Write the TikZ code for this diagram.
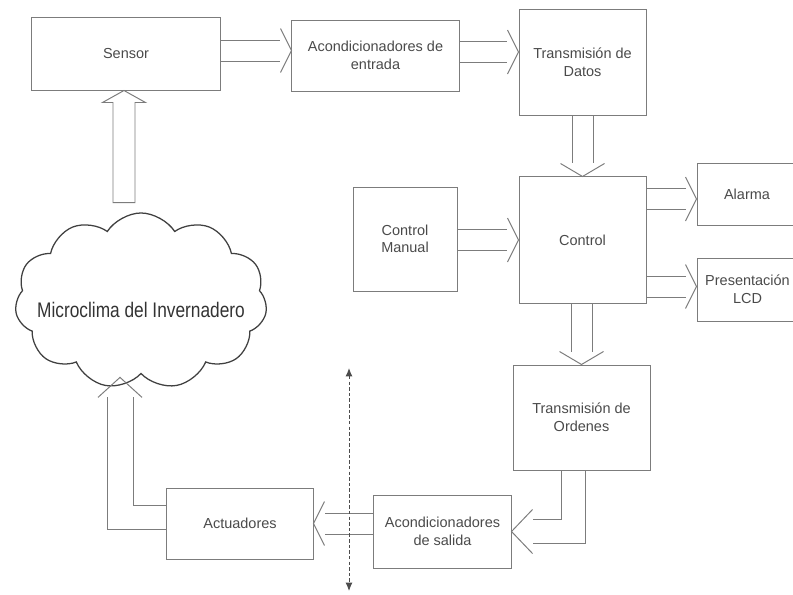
\documentclass[tikz,border=0pt]{standalone}
\usepackage{fontspec}
\setmainfont{Liberation Sans}
\newfontfamily\nubefont[FakeStretch=0.82]{Liberation Sans}
\usetikzlibrary{arrows.meta,calc,shapes.symbols}

\definecolor{trazo}{HTML}{7C7C7C}
\definecolor{letra}{HTML}{4A4A4A}

\tikzset{
  bloque/.style={draw=trazo, line width=0.7pt, rectangle, align=center, text=letra,
    inner sep=0pt, font=\fontsize{10.3}{12.5}\selectfont},
  linea/.style={draw=trazo, line width=0.7pt, line join=miter},
  nube/.style={draw=black!75, line width=0.9pt, cloud, cloud puffs=11, cloud puff arc=115,
    aspect=1.4, minimum width=6.3cm, minimum height=4.4cm, inner sep=0pt},
  nubetexto/.style={text=black!80, inner sep=0pt, font=\nubefont\fontsize{15}{18}\selectfont},
  limite/.style={draw=black!70, line width=0.7pt, dash pattern=on 2.5pt off 1.5pt,
    {Latex[length=6pt,width=5pt]}-{Latex[length=6pt,width=5pt]}}
}

% open head of a block arrow: tip, direction, head length
\newcommand{\punta}[3]{\draw[linea, shift={(#1)}, rotate=#2] (-#3,-22) -- (0,0) -- (-#3,22);}
% the two lines of a straight shaft: from, tip, shortening (h = horizontal, v = vertical)
\newcommand{\tuboh}[3]{%
  \draw[linea, transform canvas={yshift=0.2625cm}, shorten >=#3] (#1) -- (#2);
  \draw[linea, transform canvas={yshift=-0.2625cm}, shorten >=#3] (#1) -- (#2);}
\newcommand{\tubov}[3]{%
  \draw[linea, transform canvas={xshift=0.2625cm}, shorten >=#3] (#1) -- (#2);
  \draw[linea, transform canvas={xshift=-0.2625cm}, shorten >=#3] (#1) -- (#2);}

\begin{document}
\begin{tikzpicture}[x=0.025cm, y=-0.025cm]
        \path[use as bounding box, clip] (0,0) rectangle (793,594);

        % Define blocks
        \node[bloque, minimum width=4.7cm, minimum height=1.825cm] (sensor) at (126,53.5) {Sensor};
        \node[bloque, minimum width=4.175cm, minimum height=1.775cm] (acin) at (375.5,55.5) {Acondicionadores de\\entrada};
        \node[bloque, minimum width=3.175cm, minimum height=2.625cm] (tdat) at (582.5,62.5) {Transmisión de\\Datos};
        \node[bloque, minimum width=2.6cm, minimum height=2.6cm] (man) at (405,239) {Control\\Manual};
        \node[bloque, minimum width=3.175cm, minimum height=3.15cm] (ctrl) at (582.5,240) {Control};
        \node[bloque, minimum width=2.5cm, minimum height=1.55cm] (alarma) at (747,194) {Alarma};
        \node[bloque, minimum width=2.525cm, minimum height=1.575cm] (lcd) at (747.5,289.5) {Presentación\\LCD};
        \node[bloque, minimum width=3.425cm, minimum height=2.625cm] (tord) at (581.5,417.5) {Transmisión de\\Ordenes};
        \node[bloque, minimum width=3.425cm, minimum height=1.825cm] (acsal) at (442.5,531.5) {Acondicionadores\\de salida};
        \node[bloque, minimum width=3.65cm, minimum height=1.775cm] (act) at (240,523.5) {Actuadores};

        % Define the cloud
        \node[nube] (cloud) at (141,301) {};
        \node[nubetexto] (clima) at (141,310) {Microclima del Invernadero};

        % Tips of the block arrows
        \coordinate (p1) at ($(acin.west)+(0,-5)$);
        \coordinate (p2) at ($(tdat.west)+(0,-10.5)$);
        \coordinate (p3) at (ctrl.west);
        \coordinate (p4) at ($(alarma.west)+(0,5)$);
        \coordinate (p5) at ($(lcd.west)+(0,-3)$);
        \coordinate (p6) at (ctrl.north);
        \coordinate (p7) at (tord.north);
        \coordinate (p8) at (acsal.east);
        \coordinate (p9) at (act.east);
        \coordinate (p10) at ($(cloud.south)+(-21,3)$);
        \coordinate (p11) at ($(sensor.south)+(-2,0)$);

        % Block arrows
        \tuboh{sensor.east |- p1}{p1}{0.275cm}
        \punta{p1}{0}{11}
        \tuboh{acin.east |- p2}{p2}{0.275cm}
        \punta{p2}{0}{11}
        \tuboh{man.east |- p3}{p3}{0.275cm}
        \punta{p3}{0}{11}
        \tuboh{ctrl.east |- p4}{p4}{0.275cm}
        \punta{p4}{0}{11}
        \tuboh{ctrl.east |- p5}{p5}{0.275cm}
        \punta{p5}{0}{11}
        \tubov{tdat.south}{p6}{0.325cm}
        \punta{p6}{-90}{13}
        \tubov{ctrl.south -| p7}{p7}{0.325cm}
        \punta{p7}{-90}{13}
        \draw[linea] ($(tord.south)+(-20,0)$) |- ($(p8)+(21,-12)$);
        \draw[linea] ($(tord.south)+(4,0)$) |- ($(p8)+(21,12)$);
        \punta{p8}{180}{21}
        \tuboh{acsal.west |- p9}{p9}{0.275cm}
        \punta{p9}{180}{11}
        \draw[linea] ($(act.west)+(0,-18.5)$) -| ($(p10)+(13,20)$);
        \draw[linea] ($(act.west)+(0,5.5)$) -| ($(p10)+(-13,20)$);
        \punta{p10}{90}{20}
        \draw[linea] (p11) -- ++(21.5,12) -- ++(-10.5,0) -- ++(0,100) -- ++(-22,0)
          -- ++(0,-100) -- ++(-10.5,0) -- cycle;

        % Boundary line
        \coordinate (lim1) at (349,368);
        \coordinate (lim2) at (349,591);
        \draw[limite] (lim1) -- (lim2);
    \end{tikzpicture}
\end{document}
